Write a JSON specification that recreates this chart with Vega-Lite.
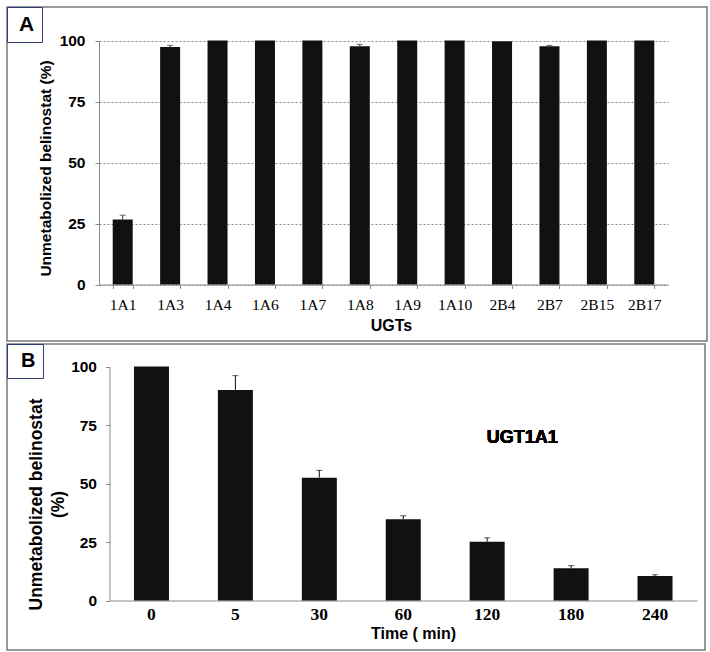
{
  "$schema": "https://vega.github.io/schema/vega-lite/v6.json",
  "padding": {"left": 5, "top": 5, "right": 0, "bottom": 0},
  "background": "white",
  "spacing": 0,
  "datasets": {
    "ugt": [
      {"ugt": "1A1", "value": 26.6, "upper": 28.4},
      {"ugt": "1A3", "value": 97.3, "upper": 98.0},
      {"ugt": "1A4", "value": 100, "upper": null},
      {"ugt": "1A6", "value": 100, "upper": null},
      {"ugt": "1A7", "value": 100, "upper": null},
      {"ugt": "1A8", "value": 97.6, "upper": 98.4},
      {"ugt": "1A9", "value": 100, "upper": null},
      {"ugt": "1A10", "value": 100, "upper": null},
      {"ugt": "2B4", "value": 99.7, "upper": null},
      {"ugt": "2B7", "value": 97.6, "upper": 98.0},
      {"ugt": "2B15", "value": 100, "upper": null},
      {"ugt": "2B17", "value": 100, "upper": null}
    ],
    "time": [
      {"time": "0", "value": 100, "upper": null},
      {"time": "5", "value": 90.0, "upper": 96.1},
      {"time": "30", "value": 52.5, "upper": 55.6},
      {"time": "60", "value": 34.7, "upper": 36.2},
      {"time": "120", "value": 25.1, "upper": 26.8},
      {"time": "180", "value": 13.8, "upper": 14.9},
      {"time": "240", "value": 10.5, "upper": 11.0}
    ]
  },
  "vconcat": [
    {
      "width": 700,
      "height": 334,
      "data": {"name": "ugt"},
      "encoding": {
        "x": {
          "field": "ugt",
          "type": "nominal",
          "sort": null,
          "scale": {
            "domain": ["1A1", "1A3", "1A4", "1A6", "1A7", "1A8", "1A9", "1A10", "2B4", "2B7", "2B15", "2B17"],
            "range": [92, 661],
            "paddingInner": 0.578,
            "paddingOuter": 0.289
          },
          "axis": {
            "orient": "bottom",
            "offset": -56.5,
            "tickBand": "extent",
            "domainColor": "#8a8a8a",
            "tickColor": "#8a8a8a",
            "tickSize": 4,
            "labelAngle": 0,
            "labelFont": "Liberation Serif",
            "labelFontSize": 15.5,
            "labelColor": "black",
            "labelPadding": 9,
            "title": "UGTs",
            "titleFont": "Liberation Sans",
            "titleFontWeight": "bold",
            "titleFontSize": 16,
            "titleColor": "black",
            "titlePadding": 4,
            "titleX": 384
          }
        }
      },
      "layer": [
        {
          "mark": {"type": "bar"},
          "encoding": {
            "y": {
              "field": "value",
              "type": "quantitative",
              "scale": {"domain": [0, 100], "range": [277.5, 33.5], "nice": false},
              "axis": {
                "values": [0, 25, 50, 75, 100],
                "offset": -92,
                "grid": true,
                "gridDash": [2, 2],
                "gridColor": "#8a8a8a",
                "domainColor": "#8a8a8a",
                "tickColor": "#8a8a8a",
                "tickSize": 4,
                "labelFont": "Liberation Sans",
                "labelFontWeight": "bold",
                "labelFontSize": 15.5,
                "labelColor": "black",
                "labelPadding": 10,
                "title": "Unmetabolized belinostat (%)",
                "titleFont": "Liberation Sans",
                "titleFontWeight": "bold",
                "titleFontSize": 15.5,
                "titleColor": "black",
                "titlePadding": 6,
                "titleY": 161
              }
            },
            "y2": {"datum": 0},
            "color": {
              "datum": "A",
              "scale": {"range": ["#111111"]},
              "legend": {
                "orient": "top-left",
                "direction": "vertical",
                "columns": 1,
                "offset": 0,
                "title": null,
                "strokeColor": "#2f3e75",
                "fillColor": "white",
                "padding": 7,
                "labelFont": "Liberation Sans",
                "labelFontWeight": "bold",
                "labelFontSize": 21,
                "labelColor": "black",
                "labelAlign": "left",
                "columnPadding": 0,
                "symbolType": "circle",
                "symbolSize": 1,
                "symbolOpacity": 0,
                "symbolStrokeWidth": 0,
                "labelOffset": -16
              }
            }
          }
        },
        {
          "transform": [{"filter": "datum.upper != null"}],
          "mark": {"type": "rule", "color": "#333333"},
          "encoding": {
            "y": {"field": "value", "type": "quantitative"},
            "y2": {"field": "upper"}
          }
        },
        {
          "transform": [{"filter": "datum.upper != null"}],
          "mark": {"type": "tick", "orient": "horizontal", "size": 6, "thickness": 1, "color": "#333333"},
          "encoding": {
            "y": {"field": "upper", "type": "quantitative"}
          }
        }
      ]
    },
    {
      "width": 698,
      "height": 306,
      "data": {"name": "time"},
      "encoding": {
        "x": {
          "field": "time",
          "type": "nominal",
          "sort": null,
          "scale": {
            "domain": ["0", "5", "30", "60", "120", "180", "240"],
            "range": [102.5, 690],
            "paddingInner": 0.583,
            "paddingOuter": 0.2915
          },
          "axis": {
            "orient": "bottom",
            "offset": -49.5,
            "ticks": false,
            "domainColor": "#8a8a8a",
            "labelAngle": 0,
            "labelFont": "Liberation Serif",
            "labelFontWeight": "bold",
            "labelFontSize": 17.5,
            "labelColor": "black",
            "labelPadding": 5,
            "title": "Time ( min)",
            "titleFont": "Liberation Sans",
            "titleFontWeight": "bold",
            "titleFontSize": 16,
            "titleColor": "black",
            "titlePadding": 2,
            "titleX": 406
          }
        }
      },
      "layer": [
        {
          "mark": {"type": "bar"},
          "encoding": {
            "y": {
              "field": "value",
              "type": "quantitative",
              "scale": {"domain": [0, 100], "range": [256.5, 22.5], "nice": false},
              "axis": {
                "values": [0, 25, 50, 75, 100],
                "offset": -102.5,
                "grid": false,
                "domainColor": "#8a8a8a",
                "tickColor": "#8a8a8a",
                "tickSize": 4,
                "labelFont": "Liberation Sans",
                "labelFontWeight": "bold",
                "labelFontSize": 15.5,
                "labelColor": "black",
                "labelPadding": 9,
                "title": ["Unmetabolized belinostat", "(%)"],
                "titleFont": "Liberation Sans",
                "titleFontWeight": "bold",
                "titleFontSize": 17.5,
                "titleLineHeight": 22,
                "titleColor": "black",
                "titlePadding": 3,
                "titleY": 160
              }
            },
            "y2": {"datum": 0},
            "color": {
              "datum": "B",
              "scale": {"range": ["#111111"]},
              "legend": {
                "orient": "top-left",
                "direction": "vertical",
                "columns": 1,
                "offset": 0,
                "title": null,
                "strokeColor": "#2f3e75",
                "fillColor": "white",
                "padding": 7,
                "labelFont": "Liberation Sans",
                "labelFontWeight": "bold",
                "labelFontSize": 20,
                "labelColor": "black",
                "labelAlign": "left",
                "columnPadding": 0,
                "symbolType": "circle",
                "symbolSize": 1,
                "symbolOpacity": 0,
                "symbolStrokeWidth": 0,
                "labelOffset": -13
              }
            }
          }
        },
        {
          "transform": [{"filter": "datum.upper != null"}],
          "mark": {"type": "rule", "color": "#111111"},
          "encoding": {
            "y": {"field": "value", "type": "quantitative"},
            "y2": {"field": "upper"}
          }
        },
        {
          "transform": [{"filter": "datum.upper != null"}],
          "mark": {"type": "tick", "orient": "horizontal", "size": 6, "thickness": 1, "color": "#111111"},
          "encoding": {
            "y": {"field": "upper", "type": "quantitative"}
          }
        },
        {
          "mark": {"type": "text", "text": "UGT1A1", "font": "Liberation Sans", "fontWeight": "bold", "fontSize": 18, "dx": 35, "baseline": "middle", "align": "center", "color": "black"},
          "encoding": {
            "x": {"datum": "120"},
            "y": {"datum": 69.4}
          }
        }
      ]
    }
  ],
  "resolve": {
    "scale": {"x": "independent", "y": "independent", "color": "independent"},
    "legend": {"color": "independent"}
  },
  "config": {
    "view": {"stroke": "#7a7a7a", "strokeWidth": 1.5},
    "axis": {"labelColor": "black", "titleColor": "black"}
  }
}
